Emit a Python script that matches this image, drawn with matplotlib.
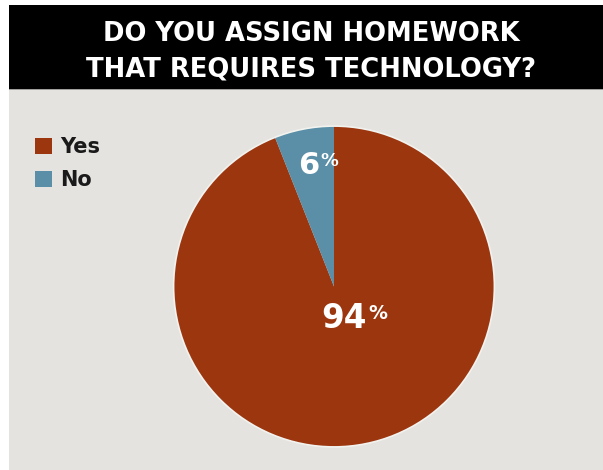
import matplotlib
matplotlib.use("Agg")
import matplotlib.pyplot as plt
import numpy as np
from matplotlib.patches import Rectangle, Circle

# ---- data ----
categories = ["Yes", "No"]
values = [94, 6]
pct_labels = ["94", "6"]
title_lines = ["DO YOU ASSIGN HOMEWORK", "THAT REQUIRES TECHNOLOGY?"]

colors = ["#9c360f", "#5a8fa7"]
bg = "#e4e3df"

W, H = 603, 470
fig = plt.figure(figsize=(W / 100, H / 100), dpi=100)
fig.patch.set_facecolor("white")

def fx(px):
    return px / W

def fy(py):
    return 1 - py / H

# gray panel and black header band
fig.patches.append(Rectangle((fx(9), 0), 1 - fx(9), fy(5), transform=fig.transFigure,
                             facecolor=bg, edgecolor="none", zorder=-10))
fig.patches.append(Rectangle((fx(9), fy(90)), 1 - fx(9), fy(5) - fy(90), transform=fig.transFigure,
                             facecolor="#a09f9c", edgecolor="none", zorder=-9))
fig.patches.append(Rectangle((fx(9), fy(89)), 1 - fx(9), fy(5) - fy(89), transform=fig.transFigure,
                             facecolor="black", edgecolor="none", zorder=-8))

# title
fig.text(fx(311), fy(41), title_lines[0], color="white", fontsize=18.6, fontweight="bold",
         family="DejaVu Sans", ha="center", va="baseline")
fig.text(fx(311), fy(77), title_lines[1], color="white", fontsize=18.6, fontweight="bold",
         family="DejaVu Sans", ha="center", va="baseline")

# pie axes
cx, cy, r = 334, 286.5, 162
ax = fig.add_axes([fx(cx - r), fy(cy + r), 2 * r / W, 2 * r / H])
ax.set_facecolor("none")
ax.set_zorder(1)
wedges, _ = ax.pie(values, colors=colors, startangle=90, counterclock=False,
                   wedgeprops=dict(edgecolor="none", linewidth=0))
ax.add_patch(Circle((0, 0), 1.0, facecolor="none", edgecolor="#f2f2ef", linewidth=1.2, zorder=5))
ax.set_xlim(-1.01, 1.01)
ax.set_ylim(-1.01, 1.01)
ax.set_aspect("equal")
ax.axis("off")

# percentage labels
dists = [0.21, 0.77]
sizes = [23.5, 22]
angles = [-73, 101.8]
for w, lab, d, s, a in zip(wedges, pct_labels, dists, sizes, angles):
    x = d * np.cos(np.radians(a))
    y = d * np.sin(np.radians(a))
    t = ax.text(x, y, lab, color="white", fontsize=s, fontweight="bold", family="DejaVu Sans",
                ha="center", va="center", zorder=6)
    ax.annotate("%", xy=(1, 1), xycoords=t, xytext=(1, -1), textcoords="offset points",
                color="white", fontsize=s * 0.58, fontweight="bold", family="DejaVu Sans",
                ha="left", va="top", zorder=6)

# legend
leg = ax.legend(wedges, categories, loc="upper left",
                bbox_to_anchor=(fx(35), fy(137)), bbox_transform=fig.transFigure,
                frameon=False, borderpad=0, borderaxespad=0,
                handlelength=0.82, handleheight=0.82, handletextpad=0.4, labelspacing=0.62,
                prop=dict(family="DejaVu Sans", weight="bold", size=15))
for t in leg.get_texts():
    t.set_color("#1a1a1a")

fig.savefig("out.png", dpi=100, facecolor=fig.get_facecolor())
